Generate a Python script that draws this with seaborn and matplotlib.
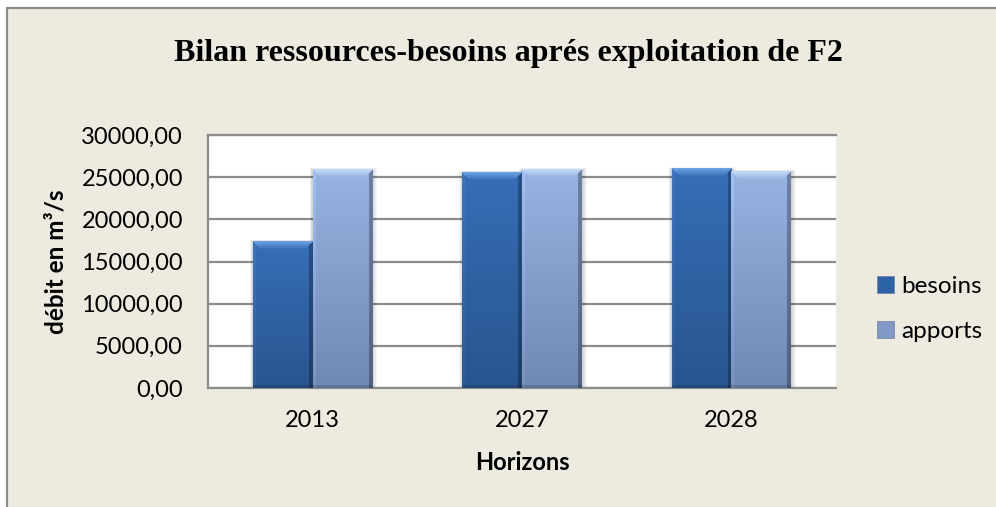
import numpy as np
import pandas as pd
import matplotlib
matplotlib.use("Agg")
import matplotlib.pyplot as plt
from matplotlib.patches import Rectangle, Patch
from matplotlib.colors import to_rgb
import seaborn as sns

# Values (m3/s) per planning horizon
horizons = ["2013", "2027", "2028"]
besoins = [17400, 25600, 26000]
apports = [25900, 25900, 25700]
series = ["besoins", "apports"]
y_ticks = [0, 5000, 10000, 15000, 20000, 25000, 30000]
y_tick_labels = [f"{v:.2f}".replace(".", ",") for v in y_ticks]

df = pd.DataFrame({
    "Horizons": horizons * 2,
    "serie": ["besoins"] * len(horizons) + ["apports"] * len(horizons),
    "debit": besoins + apports,
})

sns.set_theme(style="white")
plt.rcParams["font.family"] = ["Lato", "DejaVu Sans"]
plt.rcParams["text.color"] = "#000000"

W, H = 996, 507
fig = plt.figure(figsize=(W / 100, H / 100), dpi=100)
fig.patch.set_facecolor("white")

# beige chart frame (open on the right and bottom)
frame = Rectangle((7 / W, -0.05), 1.2, 1 - 8 / H + 0.05, transform=fig.transFigure,
                  facecolor="#EDEBE0", edgecolor="#8C8C8C", linewidth=1.6, zorder=-5)
fig.patches.append(frame)

ax = fig.add_axes([208 / W, 1 - 388 / H, 628 / W, 253 / H])
ax.set_zorder(1)
ax.set_facecolor("white")

palette = {"besoins": "#2E62A6", "apports": "#8199C6"}
sns.barplot(data=df, x="Horizons", y="debit", hue="serie", order=horizons,
            hue_order=series, palette=palette, width=0.57, saturation=1,
            errorbar=None, legend=False, ax=ax, zorder=3)

ax.set_xlim(-0.5, 2.5)
ax.set_ylim(0, 30000)
ax.set_yticks(y_ticks)
ax.set_yticklabels(y_tick_labels)
ax.set_xlabel("")
ax.set_ylabel("")
ax.tick_params(axis="y", length=0, pad=18, labelsize=17, colors="#000000")
ax.tick_params(axis="x", length=0, pad=16, labelsize=17, colors="#000000")
ax.yaxis.grid(True, color="#8C8C8C", linewidth=1.6)
ax.set_axisbelow(True)
for side in ["left", "bottom", "top"]:
    ax.spines[side].set_color("#8C8C8C")
    ax.spines[side].set_linewidth(1.6)
ax.spines["right"].set_visible(False)

fig.canvas.draw()

styles = {
    "besoins": dict(top="#366EB6", bottom="#28558F", facet="#6AA2E2"),
    "apports": dict(top="#98B4E2", bottom="#7088B4", facet="#C4DAF6"),
}

px_x = ax.transData.transform((1, 0))[0] - ax.transData.transform((0, 0))[0]
px_y = ax.transData.transform((0, 1000))[1] - ax.transData.transform((0, 0))[1]


def shaded_bar(patch, st):
    x0, y0 = patch.get_x(), patch.get_y()
    w, h = patch.get_width(), patch.get_height()
    nx = max(int(round(w * px_x)), 4)
    ny = max(int(round(h * px_y / 1000)), 4)
    top = np.array(to_rgb(st["top"]))
    bot = np.array(to_rgb(st["bottom"]))
    facet = np.array(to_rgb(st["facet"]))
    t = np.linspace(0, 1, ny)[:, None, None]
    img = np.broadcast_to((1 - t) * top + t * bot, (ny, nx, 3)).copy()
    cols = np.arange(nx)
    # side facets
    img[:, :3, :] = np.clip(img[:, :3, :] * 1.07, 0, 1)
    img[:, -4:, :] = img[:, -4:, :] * 0.72
    # bevelled top
    b = 8
    for r in range(min(b, ny)):
        mask = (cols >= r) & (cols <= nx - 1 - r)
        k = r / b
        img[r, mask, :] = (1 - k) * facet + k * img[r, mask, :]
    img[-3:, :, :] = img[-3:, :, :] * 0.85
    ax.imshow(img, extent=[x0, x0 + w, y0, y0 + h], aspect="auto",
              interpolation="bilinear", zorder=3.2)
    # soft shadow
    for k in range(1, 6):
        dx = k / px_x
        dy = k * 1000 / px_y
        ax.add_patch(Rectangle((x0 - dx * 0.6, y0), w + dx * 1.6, h + dy * 0.3,
                               facecolor="#000000", alpha=0.035, edgecolor="none", zorder=2.5))
    patch.set_visible(False)


bar_patches = [p for p in ax.patches if isinstance(p, Rectangle)]
lookup = {to_rgb(palette[s]): s for s in series}
for p in bar_patches:
    key = tuple(np.round(p.get_facecolor()[:3], 4))
    name = min(lookup, key=lambda c: sum((a - b_) ** 2 for a, b_ in zip(c, key)))
    shaded_bar(p, styles[lookup[name]])

ax.set_xlim(-0.5, 2.5)
ax.set_ylim(0, 30000)

fig.text(508 / W, 1 - 53 / H, "Bilan ressources-besoins aprés exploitation de F2",
         ha="center", va="center", fontsize=23, fontweight="bold",
         family=["Liberation Serif", "DejaVu Serif"], color="#000000")
fig.text(56 / W, 1 - 262 / H, "débit en m³/s", rotation=90, ha="center", va="center",
         fontsize=17.5, fontweight="bold", color="#000000")
fig.text(522 / W, 1 - 463 / H, "Horizons", ha="center", va="center",
         fontsize=17, fontweight="bold", color="#000000")

handles = [Patch(facecolor=palette[s], edgecolor="#6E7FA0", linewidth=0.5) for s in series]
leg = fig.legend(handles, series, loc="center left", bbox_to_anchor=(877 / W, 1 - 309 / H),
                 bbox_transform=fig.transFigure, frameon=False, fontsize=17.5,
                 handlelength=0.68, handleheight=0.68, handletextpad=0.3,
                 labelspacing=1.0, borderpad=0, borderaxespad=0)
for txt in leg.get_texts():
    txt.set_color("#000000")

fig.savefig("out.png", dpi=100, facecolor=fig.get_facecolor())
